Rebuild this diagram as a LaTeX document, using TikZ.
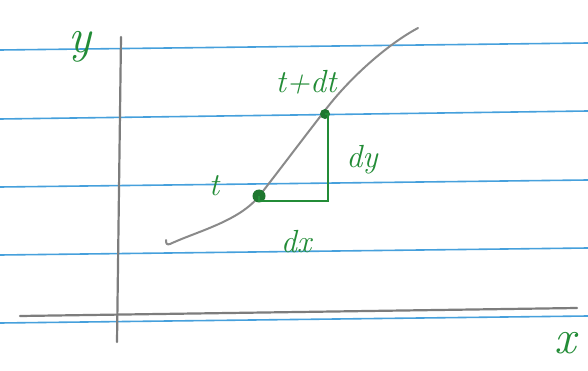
\documentclass[tikz,border=0pt]{standalone}
\usepackage{tikz}
\definecolor{ruleblue}{RGB}{70,160,220}
\definecolor{pencil}{RGB}{125,125,125}
\definecolor{ink}{RGB}{35,140,55}
\tikzset{
  ruled/.style={draw=ruleblue, line width=1.6pt},
  axisline/.style={draw=pencil, line width=2.2pt, line cap=round},
  curveline/.style={draw=pencil!90, line width=2pt, line cap=round, line join=round},
  inkline/.style={draw=ink, line width=2.4pt},
  inkdot/.style={circle, fill=ink!85!black, inner sep=0pt},
  inklabel/.style={text=ink, inner sep=0pt, font=\fontsize{32}{32}\selectfont\itshape},
  axislabel/.style={text=ink, inner sep=0pt, font=\fontsize{48}{48}\selectfont\itshape}
}
\begin{document}
\begin{tikzpicture}[x=1pt, y=-1pt]
\useasboundingbox[fill=white] (0,0) rectangle (588,371);
% ruled paper lines
\foreach \a/\b in {50/43, 119/111, 187/180, 255/248, 323/316}
  \draw[ruled] (0,\a) -- (588,\b);
% axes
\coordinate (ytop) at (121,37);
\coordinate (ybot) at (117,342);
\coordinate (xleft) at (20,316);
\coordinate (xright) at (577,308);
\draw[axisline] (ytop) -- (ybot);
\draw[axisline] (xleft) -- (xright);
\node[axislabel] (ylab) at (80,47) {y};
\node[axislabel] (xlab) at (565,343) {x};
% curve
\coordinate (c0) at (166,240);
\coordinate (c3) at (418,28);
\draw[curveline] (c0) .. controls (166,244) and (167,245) .. (170,244)
  .. controls (198,231) and (240,221) .. (260,195)
  .. controls (281,168) and (302,140) .. (323,113)
  .. controls (349,78) and (388,44) .. (c3);
% differential triangle
\node[inkdot, minimum size=13pt] (t) at (259,196) {};
\node[inkdot, minimum size=10pt] (tdt) at (325,114) {};
\coordinate (corner) at (328,201);
\draw[inkline] (t.center) |- (corner) -- (corner |- tdt.center) -- (tdt.center);
\node[inklabel] (tlab) at (214,186) {t};
\node[inklabel] (tdtlab) at (306,82) {t+dt};
\node[inklabel] (dylab) at (362,160) {dy};
\node[inklabel] (dxlab) at (296,242) {dx};
\end{tikzpicture}
\end{document}
